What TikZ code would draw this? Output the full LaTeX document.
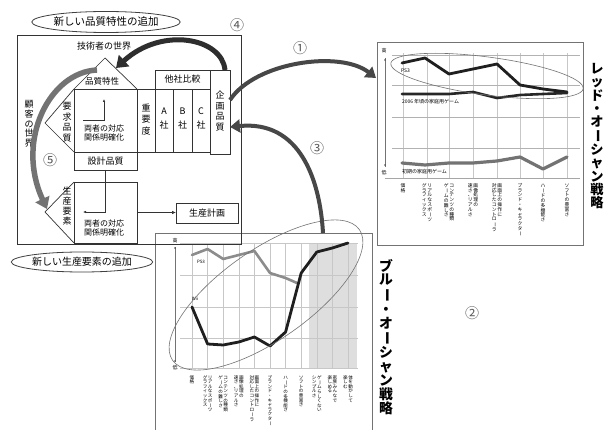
\documentclass[tikz,border=0pt]{standalone}
\usepackage{fontspec}
\usepackage{graphicx}
\setmainfont{Noto Sans CJK JP}
\usetikzlibrary{arrows.meta,shapes.geometric}
\makeatletter
\def\vtf{1}
\def\vt@end{\vt@end}
\newcommand\vt[1]{\vtop{\offinterlineskip\vt@a#1\vt@end}}
\def\vt@a#1{\ifx#1\vt@end\else\vt@c{#1}\expandafter\vt@a\fi}
\def\vt@c#1{\hbox to 1em{\vrule height .88em depth \dimexpr\vtf em-.88em\relax width 0pt\hss\ifx#1ー\rotatebox[origin=c]{-90}{ー}\else#1\fi\hss}}
\makeatother
\newcommand\vl[2]{\hbox{\vt{#2}\kern0.5pt\vt{#1}}}
\begin{document}
\begin{tikzpicture}[x=1pt,y=-1pt,
  every node/.style={inner sep=0pt, outer sep=0pt},
  qline/.style={draw=black!80, line width=0.7pt},
  qbox/.style={draw=black!80, line width=0.7pt},
  fnine/.style={font=\fontsize{9}{10}\selectfont},
  feight/.style={font=\fontsize{8}{9.5}\selectfont, align=center},
  gridln/.style={draw=black!22, line width=0.45pt},
  cframe/.style={draw=black!55, line width=0.8pt},
  lbl/.style={font=\fontsize{4.8}{5}\selectfont, anchor=north},
  blbl/.style={font=\fontsize{4.6}{5}\selectfont, anchor=north},
  num/.style={font=\fontsize{14}{14}\selectfont, text=black!65},
  bigarr/.style={line width=4pt, draw=black!72},
  bigtitle/.style={font=\fontsize{13.5}{13.5}\selectfont\bfseries, anchor=north},
  tiny/.style={font=\fontsize{5}{5}\selectfont},
]
\useasboundingbox (0,0) rectangle (611,430);
\fill[white] (0,0) rectangle (611,430);

% ================= Blue ocean chart =================
\fill[black!13] (309,243) rectangle (357,368);
\foreach \x in {192,207.6,223.2,238.8,254.4,270,285.6,301.2,316.8,332.4,348}
  \draw[gridln] (\x,243) -- (\x,368);
\foreach \y in {243,275,307,338,368}
  \draw[gridln] (180,\y) -- (358,\y);
\draw[black!55, line width=0.5pt] (175,247) -- (175,362);
\fill[black!70] (175,248) circle (0.9) (175,361) circle (0.9);
\node[tiny] at (175,241) {高};
\node[tiny] at (175,368) {低};
\draw[black!45, line width=2.6pt, line join=round, line cap=round]
  plot coordinates {(192,255) (207.6,249) (223.2,259) (238.8,255) (254.4,251) (270,273) (285.6,278) (297,283)};
\draw[black!88, line width=2.8pt, line join=round, line cap=round]
  plot coordinates {(192,307) (207.6,344) (223.2,345) (238.8,342) (254.4,337) (270,346) (285.6,332) (301.2,273) (316.8,252) (332.4,248) (348,243)};
\node[font=\fontsize{4.5}{5}\selectfont] at (201,262) {PS3};
\node[font=\fontsize{4.5}{5}\selectfont] at (195,299) {Wii};
\draw[black!55, line width=0.6pt, rotate around={35:(266,295)}] (266,295) ellipse [x radius=114, y radius=45];
\node[blbl] at (192,375) {\vt{価格}};
\node[blbl] at (207.6,375) {\vl{リアルなスポーツ}{グラフィックス}};
\node[blbl] at (223.2,375) {\vl{コンテンツの種類}{ゲームの難しさ}};
\node[blbl] at (238.8,375) {\vl{画像処理の}{速さ、リアルさ}};
\node[blbl] at (254.4,375) {\vl{画面上の操作に}{対応したコントローラ}};
\node[blbl] at (270,375) {\vt{ブランド・キャラクター}};
\node[blbl] at (285.6,375) {\vt{ハードの多機能さ}};
\node[blbl] at (301.2,375) {\vt{ソフトの豊富さ}};
\node[blbl] at (316.8,375) {\vl{ゲームらしくない}{シンプルさ}};
\node[blbl] at (332.4,375) {\vl{家族みんなで}{楽しめる}};
\node[blbl] at (348,375) {\vl{体を動かして}{楽しむ}};
\node[cframe, minimum width=217, minimum height=207] (blue) at (263.5,336.5) {};
\node[bigtitle, font=\fontsize{13.8}{13.8}\selectfont\bfseries] at (386,259) {\vt{ブルー・オーシャン戦略}};

% ================= Red ocean chart =================
\foreach \x in {403,427,449,473,497,520,543,567}
  \draw[gridln] (\x,53) -- (\x,178);
\foreach \y in {55,85,117,148}
  \draw[gridln, draw=black!30] (392,\y) -- (580,\y);
\draw[gridln, draw=black!35] (385,178) -- (580,178);
\draw[black!55, line width=0.5pt] (385,58) -- (385,167);
\fill[black!70] (385,60) circle (0.9) (385,165) circle (0.9);
\node[tiny] at (384,51) {高};
\node[tiny] at (384,173) {低};
\draw[black!88, line width=2.8pt, line join=round, line cap=round]
  plot coordinates {(402,63) (425,58) (449,74) (473,69) (497,64) (520,85) (543,89) (567,92)};
\draw[black!85, line width=2.6pt, line join=round, line cap=round]
  plot coordinates {(402,94) (425,94) (449,94) (473,92) (497,98) (520,95) (543,94) (567,93)};
\draw[black!55, line width=3.2pt, line join=round, line cap=round]
  plot coordinates {(402,163) (425,165) (449,163) (473,163) (497,161) (520,157) (543,169) (567,157)};
\node[tiny, anchor=west] at (401,71) {PS3};
\node[tiny, anchor=west] at (402,102) {2006 年頃の家庭用ゲーム};
\node[tiny, anchor=west] at (402,172) {初期の家庭用ゲーム};
\draw[black!55, line width=0.6pt, rotate around={-7.5:(487,76)}] (487,76) ellipse [x radius=97, y radius=19];
\node[lbl] at (403,183) {\vt{価格}};
\node[lbl] at (427,183) {\vl{リアルなスポーツ}{グラフィックス}};
\node[lbl] at (449,183) {\vl{コンテンツの種類}{ゲームの難しさ}};
\node[lbl] at (473,183) {\vl{画像処理の}{速さ、リアルさ}};
\node[lbl] at (497,183) {\vl{画面上の操作に}{対応したコントローラ}};
\node[lbl] at (520,183) {\vt{ブランド・キャラクター}};
\node[lbl] at (543,183) {\vt{ハードの多機能さ}};
\node[lbl] at (567,183) {\vt{ソフトの豊富さ}};
\node[cframe, minimum width=206, minimum height=203] (red) at (480,143.5) {};
\node[bigtitle, font=\fontsize{13.2}{13.2}\selectfont\bfseries] at (597,62) {\vt{レッド・オーシャン戦略}};

% ================= QFD =================
\node[qbox, minimum width=224, minimum height=209] (qfd) at (129,139.5) {};
\node[draw=black!75, line width=0.8pt, ellipse, minimum width=138, minimum height=21,
      font=\fontsize{10.5}{11}\selectfont] (e1) at (106,22) {新しい品質特性の追加};
\node[draw=black!75, line width=0.8pt, ellipse, minimum width=139, minimum height=20,
      font=\fontsize{10}{11}\selectfont] (e2) at (82,262) {新しい生産要素の追加};
\node[fnine] (tech) at (104,46) {技術者の世界};
\node[fnine] (cust) at (29,124) {\def\vtf{1.07}\vt{顧客の世界}};

\draw[qline] (74,89) -- (105,58) -- (137,89);
\node[font=\fontsize{8.5}{9}\selectfont] (hqt) at (102,81) {品質特性};
\node[qbox, minimum width=63, minimum height=63] (hq) at (105.5,120.5) {};
\draw[qline] (hq.north west) -- (45,123) -- (hq.south west);
\node[fnine] (yq) at (67,123) {\def\vtf{1.2}\vt{要求品質}};
\node[feight] (hqx) at (104,133) {両者の対応\\関係明確化};
\node[qbox, fnine, minimum width=63, minimum height=18] (sk) at (105.5,161) {設計品質};
\node[qbox, fnine, minimum width=18, minimum height=63] (jy) at (146,120.5) {\def\vtf{1.25}\vt{重要度}};
\node[qbox, fnine, minimum width=55, minimum height=19] (ts) at (182.5,79.5) {他社比較};
\node[qbox, fnine, minimum width=18, minimum height=63] (ca) at (164,120.5) {\def\vtf{1.5}\vt{A社}};
\node[qbox, fnine, minimum width=19, minimum height=63] (cb) at (182.5,120.5) {\def\vtf{1.5}\vt{B社}};
\node[qbox, fnine, minimum width=18, minimum height=63] (cc) at (201,120.5) {\def\vtf{1.5}\vt{C社}};
\node[qbox, fnine, minimum width=20, minimum height=84] (kk) at (220,112) {\def\vtf{1.2}\vt{企画品質}};
\coordinate (ua) at (83,120);
\coordinate (ub) at (104,99);
\draw[qline, -{Latex[length=3pt,width=2.6pt]}] (ua) -| (ub);

\node[qbox, minimum width=63, minimum height=61] (lb) at (105.5,212.5) {};
\draw[qline] (lb.north west) -- (45,212) -- (lb.south west);
\node[fnine] (sy) at (67,207) {\def\vtf{1.12}\vt{生産要素}};
\node[feight] (lbx) at (104,228) {両者の対応\\関係明確化};
\node[qbox, fnine, minimum width=62, minimum height=20] (sp) at (207,213) {生産計画};
\coordinate (la) at (83,212);
\draw[qline, -{Latex[length=3pt,width=2.6pt]}] (sk.south) |- (la);
\draw[qline, -{Latex[length=4pt,width=3.5pt]}] (lb.east) -- (lb.east -| sp.west);

% ================= Big arrows =================
\coordinate (a4e) at (116,68);
\draw[bigarr, line width=5pt, draw=black!82, -{Triangle[length=11pt,width=15pt]}]
  ([xshift=5pt]kk.north) .. controls (222,38) and (162,26) .. (a4e);
\coordinate (a5s) at (97,70);
\coordinate (a5e) at (47,209);
\draw[bigarr, line width=5.5pt, draw=black!55, -{Triangle[length=11pt,width=15pt]}]
  (a5s) .. controls (50,72) and (15,140) .. (a5e);
\coordinate (r1) at (376,78);
\draw[bigarr, -{Triangle[length=10pt,width=13pt]}]
  ([yshift=12pt]kk.east) .. controls (255,62) and (340,50) .. (r1);
\coordinate (b1) at (323,233);
\draw[bigarr, -{Triangle[length=10pt,width=13pt]}]
  (b1) .. controls (320,180) and (300,120) .. ([yshift=-15pt]kk.east);

% ================= Numbers =================
\node[num] at (300,48) {①};
\node[num] at (472,313) {②};
\node[num] at (317,148) {③};
\node[num] at (237,25) {④};
\node[num] at (50,160) {⑤};
\end{tikzpicture}
\end{document}
